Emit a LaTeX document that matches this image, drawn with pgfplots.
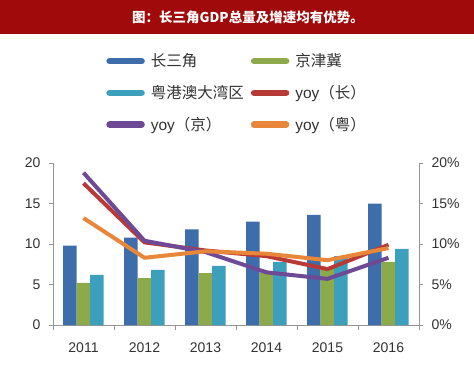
\documentclass[border=0pt]{standalone}
\usepackage{pgfplots}
\pgfplotsset{compat=1.18}
\usepackage{fontspec}
\setmainfont{Liberation Sans}
\newfontfamily\cjk{Noto Sans CJK SC}
\definecolor{cblue}{RGB}{61,109,170}
\definecolor{cgreen}{RGB}{141,170,74}
\definecolor{cteal}{RGB}{60,160,188}
\definecolor{cred}{RGB}{184,58,54}
\definecolor{cpurple}{RGB}{110,74,150}
\definecolor{corange}{RGB}{232,135,58}
\definecolor{banner}{RGB}{160,10,10}
\definecolor{txtgray}{RGB}{50,50,50}
\definecolor{axgray}{RGB}{150,150,150}
\begin{document}
\begin{tikzpicture}
\path[use as bounding box] (0,0) rectangle (474pt,370pt);
\fill[banner] (0,336pt) rectangle (474pt,370pt);
\node[text=white,font=\cjk\bfseries\fontsize{13.5}{16}\selectfont] at (248pt,353pt) {图：长三角GDP总量及增速均有优势。};
\begin{axis}[
  at={(53pt,45pt)}, anchor=south west, scale only axis,
  width=366pt, height=162pt,
  xmin=-0.5, xmax=5.5, ymin=0, ymax=20,
  axis x line*=bottom, axis y line*=left,
  axis line style={axgray, line width=0.8pt},
  ytick={0,5,10,15,20},
  xtick={0,1,2,3,4,5},
  xticklabels={2011,2012,2013,2014,2015,2016},
  minor xtick={-0.5,0.5,1.5,2.5,3.5,4.5,5.5},
  major x tick style={draw=none},
  minor tick style={axgray, line width=0.8pt},
  major tick style={axgray, line width=0.8pt},
  tick align=outside, major tick length=4pt, minor tick length=5pt,
  /pgf/number format/assume math mode=true,
  tick label style={font=\fontsize{14}{16}\selectfont, text=txtgray},
  xticklabel style={yshift=-10pt},
  yticklabel style={xshift=-5pt},
  ybar=0pt, bar width=13.5pt,
  clip=false,
]
\addplot[fill=cblue, draw=none] coordinates {(0,9.8) (1,10.8) (2,11.8) (3,12.75) (4,13.6) (5,15.0)};
\addplot[fill=cgreen, draw=none] coordinates {(0,5.2) (1,5.8) (2,6.4) (3,6.5) (4,7.0) (5,7.8)};
\addplot[fill=cteal, draw=none] coordinates {(0,6.2) (1,6.8) (2,7.3) (3,7.8) (4,8.5) (5,9.4)};
\end{axis}
\begin{axis}[
  at={(53pt,45pt)}, anchor=south west, scale only axis,
  width=366pt, height=162pt,
  xmin=-0.5, xmax=5.5, ymin=0, ymax=20,
  axis x line=none, axis y line*=right,
  axis line style={axgray, line width=0.8pt},
  ytick={0,5,10,15,20},
  yticklabel={\pgfmathprintnumber{\tick}\%},
  major tick style={axgray, line width=0.8pt},
  tick align=outside, major tick length=4pt,
  /pgf/number format/assume math mode=true,
  tick label style={font=\fontsize{14}{16}\selectfont, text=txtgray},
  yticklabel style={xshift=5pt},
  clip=false,
  legend columns=2,
  legend cell align=left,
  legend image code/.code={\draw[#1, line width=6.5pt, line cap=round] (3pt,0pt) -- (35pt,0pt);},
  legend style={at={(0.137,1.70)}, anchor=north west, draw=none, fill=none,
    font=\fontsize{15.5}{18}\selectfont, text=txtgray, row sep=13pt,
    /tikz/every odd column/.append style={column sep=4pt},
    /tikz/every even column/.append style={column sep=5pt}},
]
\addlegendimage{draw=cblue}
\addlegendentry{\cjk 长三角}
\addlegendimage{draw=cgreen}
\addlegendentry{\cjk 京津冀}
\addlegendimage{draw=cteal}
\addlegendentry{\cjk 粤港澳大湾区}
\addplot[cred, line width=4pt, line join=round] coordinates {(0,17.5) (1,10.2) (2,9.2) (3,8.5) (4,6.9) (5,9.9)};
\addlegendentry{yoy{\cjk （长）}}
\addplot[cpurple, line width=4pt, line join=round] coordinates {(0,18.8) (1,10.4) (2,9.0) (3,6.5) (4,5.7) (5,8.3)};
\addlegendentry{yoy{\cjk （京）}}
\addplot[corange, line width=4pt, line join=round] coordinates {(0,13.2) (1,8.3) (2,9.1) (3,8.8) (4,8.0) (5,9.5)};
\addlegendentry{yoy{\cjk （粤）}}
\end{axis}
\end{tikzpicture}
\end{document}
